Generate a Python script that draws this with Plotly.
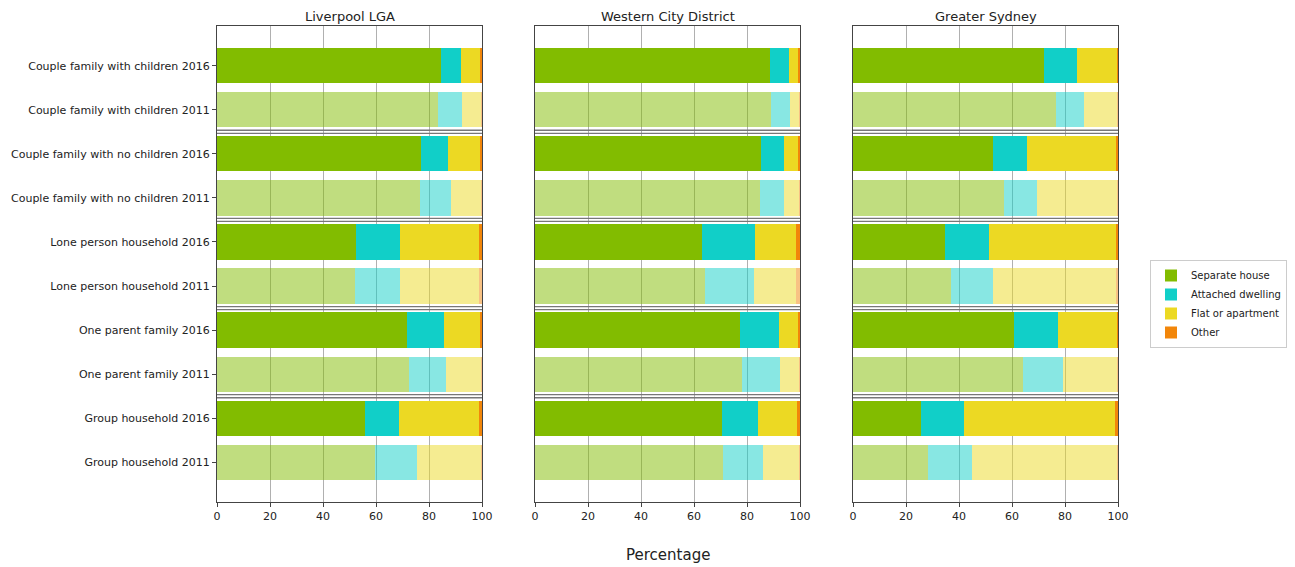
import plotly.graph_objects as go

categories = [
    "Couple family with children 2016", "Couple family with children 2011",
    "Couple family with no children 2016", "Couple family with no children 2011",
    "Lone person household 2016", "Lone person household 2011",
    "One parent family 2016", "One parent family 2011",
    "Group household 2016", "Group household 2011",
]
regions = ["Liverpool LGA", "Western City District", "Greater Sydney"]
series_names = ["Separate house", "Attached dwelling", "Flat or apartment", "Other"]

liverpool_separate = [84.5, 83.3, 76.9, 76.7, 52.5, 52.1, 71.8, 72.4, 55.9, 59.8]
liverpool_attached = [7.6, 9.3, 10.1, 11.6, 16.5, 16.9, 13.9, 14.1, 12.9, 15.8]
liverpool_flat = [7.5, 7.2, 12.6, 11.5, 29.9, 30.0, 13.9, 13.3, 30.1, 24.2]
liverpool_other = [0.4, 0.2, 0.4, 0.2, 1.1, 1.0, 0.4, 0.2, 1.1, 0.2]

western_separate = [88.8, 88.9, 85.2, 84.8, 63.0, 64.0, 77.4, 78.2, 70.4, 70.9]
western_attached = [7.0, 7.4, 8.8, 9.2, 19.9, 18.5, 14.7, 14.4, 13.9, 15.2]
western_flat = [3.8, 3.5, 5.4, 5.8, 15.6, 16.1, 7.4, 7.2, 14.7, 13.7]
western_other = [0.4, 0.2, 0.6, 0.2, 1.5, 1.4, 0.5, 0.2, 1.0, 0.2]

sydney_separate = [72.2, 76.6, 53.0, 57.0, 34.8, 37.1, 60.6, 64.2, 25.5, 28.3]
sydney_attached = [12.3, 10.7, 12.7, 12.4, 16.6, 15.7, 16.6, 14.9, 16.3, 16.7]
sydney_flat = [15.4, 12.5, 33.9, 30.4, 47.8, 46.6, 22.6, 20.7, 57.2, 54.6]
sydney_other = [0.1, 0.2, 0.4, 0.2, 0.8, 0.6, 0.2, 0.2, 1.0, 0.4]

x_ticks = [0, 20, 40, 60, 80, 100]

data = [
    [liverpool_separate, liverpool_attached, liverpool_flat, liverpool_other],
    [western_separate, western_attached, western_flat, western_other],
    [sydney_separate, sydney_attached, sydney_flat, sydney_other],
]

solid = [(130, 188, 0), (17, 207, 200), (236, 217, 35), (242, 134, 10)]

def colors_for(rgb):
    out = []
    for c in categories:
        a = 1.0 if c.endswith("2016") else 0.5
        out.append(f"rgba({rgb[0]},{rgb[1]},{rgb[2]},{a})")
    return out

# page body has an 8px default margin (top-left offset)
OFF = 8
W, H = 1295 - OFF, 567 - OFF
ml = 217 - OFF
mt = 26 - OFF
plot_right = 1118 - OFF
plot_bottom = 502 - OFF
mr = W - plot_right
mb = H - plot_bottom
pw = W - ml - mr
ph = H - mt - mb
panel_px = [(217, 482), (535, 800), (853, 1118)]
domains = [[(a - OFF - ml) / pw, (b - OFF - ml) / pw] for a, b in panel_px]

fig = go.Figure()
for p, region in enumerate(regions):
    xa = "x" if p == 0 else f"x{p+1}"
    ya = "y" if p == 0 else f"y{p+1}"
    for s, name in enumerate(series_names):
        fig.add_trace(go.Bar(
            y=categories, x=data[p][s], orientation="h",
            name=name, legendgroup=name, showlegend=(p == 0),
            marker=dict(color=colors_for(solid[s]), line=dict(width=0)),
            width=0.8, xaxis=xa, yaxis=ya,
            hovertemplate="%{y}: %{x}<extra>" + name + "</extra>",
        ))

layout = dict(
    barmode="stack",
    width=W, height=H,
    margin=dict(l=ml, r=mr, t=mt, b=mb, autoexpand=False),
    plot_bgcolor="white", paper_bgcolor="white",
    font=dict(family="DejaVu Sans", size=11, color="#222"),
    legend=dict(x=(1150 - OFF - ml) / pw, y=(502 - 304) / ph, xanchor="left", yanchor="middle",
                bordercolor="#cccccc", borderwidth=1, bgcolor="white",
                font=dict(size=10, color="#222"), tracegroupgap=0, itemwidth=30),
    bargap=0.2,
)
annotations = []
shapes = []
for p, region in enumerate(regions):
    xk = "xaxis" if p == 0 else f"xaxis{p+1}"
    yk = "yaxis" if p == 0 else f"yaxis{p+1}"
    layout[xk] = dict(domain=domains[p], range=[0, 100], tickvals=x_ticks,
                      showgrid=True, gridcolor="#b0b0b0", gridwidth=1,
                      showline=True, linecolor="#444", linewidth=1, mirror=True,
                      ticks="outside", ticklen=4, tickcolor="#444",
                      zeroline=False, layer="above traces",
                      anchor="y" if p == 0 else f"y{p+1}",
                      tickfont=dict(size=11, color="#222"), fixedrange=True)
    layout[yk] = dict(type="category", categoryarray=categories, range=[9.9, -0.9],
                      showline=True, linecolor="#444", linewidth=1, mirror=True,
                      ticks="outside" if p == 0 else "", ticklen=4, tickcolor="#444",
                      showticklabels=(p == 0), showgrid=False, automargin=False,
                      anchor="x" if p == 0 else f"x{p+1}",
                      tickfont=dict(size=11, color="#222"), fixedrange=True)
    if p > 0:
        layout[yk]["matches"] = "y"
    annotations.append(dict(text=region, x=(domains[p][0] + domains[p][1]) / 2,
                            y=1.0, xref="paper", yref="paper", xanchor="center",
                            yanchor="bottom", yshift=0, showarrow=False,
                            font=dict(size=13, color="#222")))
    xr = "x domain" if p == 0 else f"x{p+1} domain"
    yr = "y" if p == 0 else f"y{p+1}"
    for k in range(1, len(categories) - 1, 2):
        for off in (-0.035, 0.035):
            shapes.append(dict(type="line", xref=xr, yref=yr, x0=0, x1=1,
                               y0=k + 0.5 + off, y1=k + 0.5 + off,
                               line=dict(color="#777", width=1.3), layer="above"))

annotations.append(dict(text="Percentage", x=0.5 * (domains[0][0] + domains[2][1]),
                        y=(502 - 555) / ph, xref="paper", yref="paper", xanchor="center",
                        yanchor="middle", showarrow=False, font=dict(size=15, color="#222")))
layout["annotations"] = annotations
layout["shapes"] = shapes
fig.update_layout(**layout)
fig.write_html("out.html")
